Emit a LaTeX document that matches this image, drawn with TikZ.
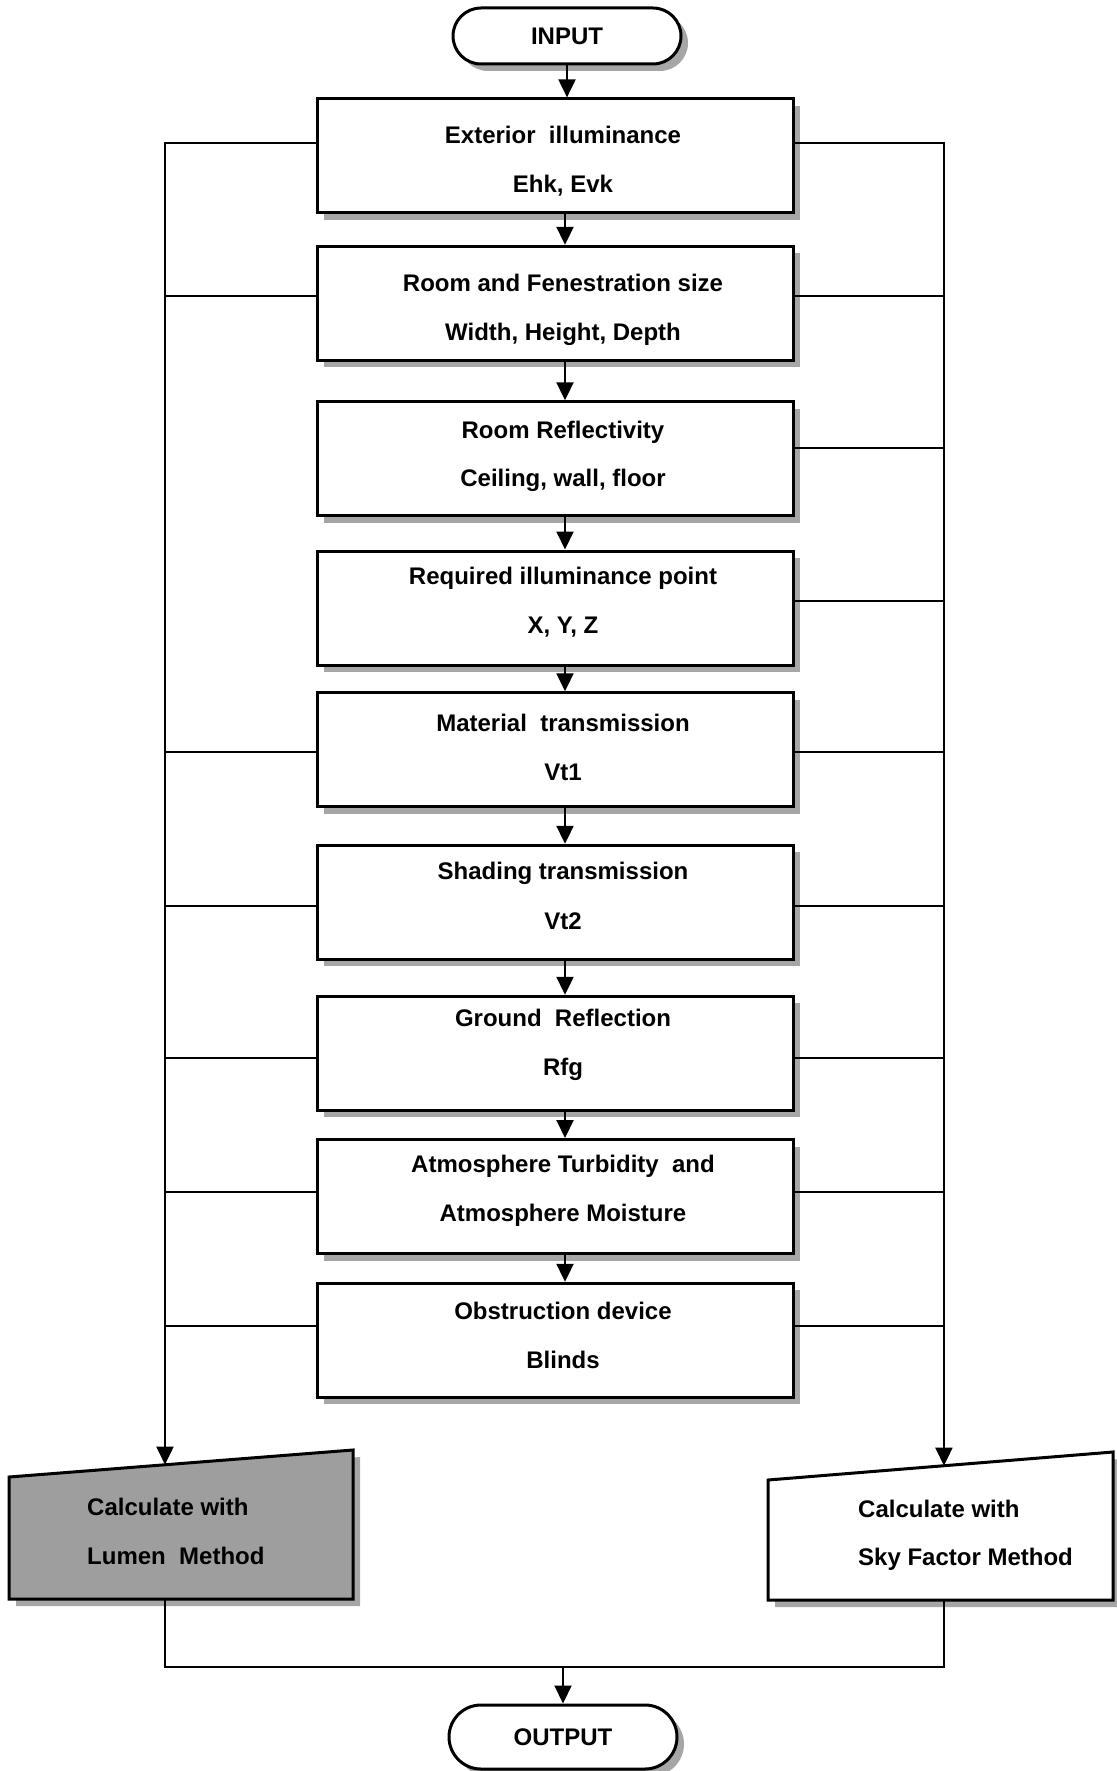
\documentclass[tikz,border=0pt]{standalone}
\usepackage{fontspec}
\setmainfont{Liberation Sans}
\usetikzlibrary{arrows.meta,shapes.misc,shadows,calc}

\begin{document}
\begin{tikzpicture}[x=1pt,y=-1pt,
  font=\fontsize{24}{29}\selectfont\bfseries,
  boxshadow/.style={drop shadow={shadow xshift=7pt,shadow yshift=-7pt,fill=black!35,opacity=1}},
  stepbox/.style={draw,line width=3pt,fill=white,minimum width=476pt,minimum height=114pt,inner sep=0pt,boxshadow},
  term/.style={draw,line width=3pt,fill=white,rounded rectangle,minimum width=228pt,inner sep=0pt,boxshadow},
  txt/.style={anchor=base,inner sep=0pt},
  ltxt/.style={anchor=base west,inner sep=0pt},
  link/.style={line width=2pt},
  flow/.style={line width=2pt,-{Triangle[width=17pt,length=18pt]}},
  iobox/.style={draw,line width=3pt,line join=miter,boxshadow}]

\useasboundingbox (0,0) rectangle (1116,1771);

% vertical guides: main flow axis and the two side trunks
\coordinate (mid) at (565,0);
\coordinate (lt) at (165,0);
\coordinate (rt) at (944,0);

% terminals
\node[term,minimum height=56pt] (in) at (567,36) {INPUT};
\node[term,minimum height=64pt] (out) at (563,1737) {OUTPUT};

% input steps
\node[stepbox] (b1) at (555,155.9) {};
\node[stepbox] (b2) at (555,303.3) {};
\node[stepbox] (b3) at (555,458.8) {};
\node[stepbox] (b4) at (555,608.0) {};
\node[stepbox] (b5) at (555,749.8) {};
\node[stepbox] (b6) at (555,902.3) {};
\node[stepbox] (b7) at (555,1053.3) {};
\node[stepbox] (b8) at (555,1196.5) {};
\node[stepbox] (b9) at (555,1340.3) {};

\node[txt] (t1a) at (563,144.0) {Exterior\ \ illuminance};
\node[txt] (t1b) at (563,192.3) {Ehk, Evk};
\node[txt] (t2a) at (563,291.7) {Room and Fenestration size};
\node[txt] (t2b) at (563,340.0) {Width, Height, Depth};
\node[txt] (t3a) at (563,438.3) {Room Reflectivity};
\node[txt] (t3b) at (563,486.7) {Ceiling, wall, floor};
\node[txt] (t4a) at (563,584.0) {Required illuminance point};
\node[txt] (t4b) at (563,633.3) {X, Y, Z};
\node[txt] (t5a) at (563,731.7) {Material\ \ transmission};
\node[txt] (t5b) at (563,780.7) {Vt1};
\node[txt] (t6a) at (563,879.0) {Shading transmission};
\node[txt] (t6b) at (563,929.3) {Vt2};
\node[txt] (t7a) at (563,1026.7) {Ground\ \ Reflection};
\node[txt] (t7b) at (563,1075.0) {Rfg};
\node[txt] (t8a) at (563,1172.7) {Atmosphere Turbidity\ \ and};
\node[txt] (t8b) at (563,1221.7) {Atmosphere Moisture};
\node[txt] (t9a) at (563,1319.3) {Obstruction device};
\node[txt] (t9b) at (563,1368.3) {Blinds};

% calculation outputs (manual-input shapes)
\coordinate (lmTL) at (9,1477);
\coordinate (lmTR) at (353,1450);
\coordinate (lmBR) at (353,1599);
\coordinate (lmBL) at (9,1599);
\draw[iobox,fill=black!38] (lmBL) -- (lmTL) -- (lmTR) -- (lmBR) -- cycle;
\node[ltxt] (lm1) at (87,1515.7) {Calculate with};
\node[ltxt] (lm2) at (87,1564.0) {Lumen\ \ Method};

\coordinate (skTL) at (768,1480);
\coordinate (skTR) at (1113,1452);
\coordinate (skBR) at (1113,1600);
\coordinate (skBL) at (768,1600);
\draw[iobox,fill=white] (skBL) -- (skTL) -- (skTR) -- (skBR) -- cycle;
\node[ltxt] (sk1) at (858,1517.3) {Calculate with};
\node[ltxt] (sk2) at (858,1565.7) {Sky Factor Method};

% heights of the side branches
\coordinate (h1) at (0,143.5);
\coordinate (h2) at (0,295.5);
\coordinate (h3) at (0,448.3);
\coordinate (h4) at (0,601.0);
\coordinate (h5) at (0,752.0);
\coordinate (h6) at (0,906.0);
\coordinate (h7) at (0,1058.0);
\coordinate (h8) at (0,1191.5);
\coordinate (h9) at (0,1326.0);

% trunk ends on the slanted tops
\coordinate (ltb) at (lt |- lmBL);
\coordinate (rtb) at (rt |- skBL);
\coordinate (lmIn) at (intersection of lt--ltb and lmTL--lmTR);
\coordinate (skIn) at (intersection of rt--rtb and skTL--skTR);
\coordinate (join) at (563,1667);

% main flow
\draw[flow] (in.south) -- (in.south |- b1.north);
\foreach \a/\b in {b1/b2,b2/b3,b3/b4,b4/b5,b5/b6,b6/b7,b7/b8,b8/b9}
  \draw[flow] (\a.south -| mid) -- (\b.north -| mid);

% side trunks
\draw[flow] (b1.west |- h1) -| (lmIn);
\draw[flow] (b1.east |- h1) -| (skIn);
\foreach \n in {2,5,6,7,8,9}
  \draw[link] (b\n.west |- h\n) -- (lt |- h\n);
\foreach \n in {2,3,4,5,6,7,8,9}
  \draw[link] (b\n.east |- h\n) -- (rt |- h\n);

% merge to output
\draw[link] (ltb) |- (join) -| (rtb);
\draw[flow] (join) -- (join |- out.north);
\end{tikzpicture}
\end{document}
